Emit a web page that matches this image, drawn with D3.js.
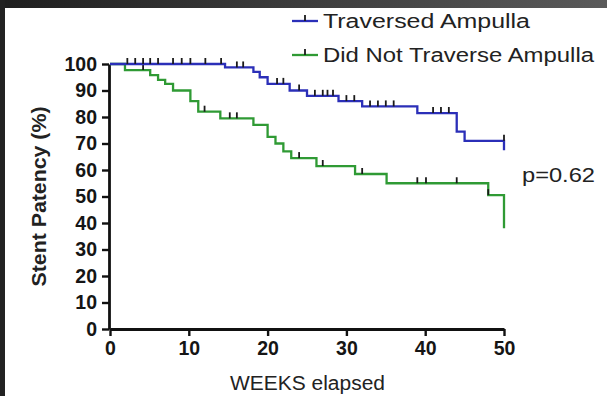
<!DOCTYPE html>
<html>
<head>
<meta charset="utf-8">
<script src="https://cdn.jsdelivr.net/npm/d3@7"></script>
<style>
  html, body { margin: 0; padding: 0; background: #fff; }
  svg { display: block; font-family: "Liberation Sans", Arial, sans-serif; }
</style>
</head>
<body>
<div id="chart"></div>
<script>
// survival steps
const traversedWeeks = [0, 14.6, 18.2, 19, 20, 22.8, 25, 29, 32, 39, 44, 45, 50, 50];
const traversedPct   = [100, 98.7, 97, 95, 92.5, 90, 88, 86, 84, 81.5, 74.5, 71, 71, 67.5];
const traversedCensor = [2.2, 3.2, 4.2, 5.1, 6.1, 8, 9.1, 10.2, 12.1, 14.1, 16.1, 16.9, 21.2, 22,
  24, 26, 27, 27.6, 28.3, 30, 31, 33, 34, 35, 36, 41, 42, 43, 50];

const notTraversedWeeks = [0, 1.9, 5.1, 6.1, 7, 8, 10.2, 11.2, 14, 18.2, 20, 21, 22, 23, 26.2, 31.1, 35.1, 48, 50, 50];
const notTraversedPct   = [100, 97.7, 95.8, 94, 92.5, 90, 86, 82, 79.5, 77, 72.5, 70, 67, 64.5, 61.5, 58.5, 55, 50.5, 50.5, 38];
const notTraversedCensor = [4.2, 12, 15.2, 16.1, 24, 27, 32, 39, 40.1, 44, 48];

const xTicks = [0, 10, 20, 30, 40, 50];
const yTicks = [0, 10, 20, 30, 40, 50, 60, 70, 80, 90, 100];

const seriesNames = ['Traversed Ampulla', 'Did Not Traverse Ampulla'];
const seriesColors = ['#2b2fb8', '#2f9a34'];

const W = 607, H = 396;
const margin = { left: 110, right: 103, top: 64, bottom: 67 };

const svg = d3.select('#chart').append('svg')
  .attr('width', W).attr('height', H);

// dark frame of the screenshot
const defs = svg.append('defs');
const grad = defs.append('linearGradient').attr('id', 'topband');
grad.append('stop').attr('offset', '0%').attr('stop-color', '#1f1f1f');
grad.append('stop').attr('offset', '100%').attr('stop-color', '#5a5a5a');
svg.append('rect').attr('x', 0).attr('y', 0).attr('width', W).attr('height', 8).attr('fill', 'url(#topband)');
svg.append('rect').attr('x', 0).attr('y', 0).attr('width', 5).attr('height', H).attr('fill', '#222');

const x = d3.scaleLinear().domain([0, 50]).range([margin.left, W - margin.right]);
const y = d3.scaleLinear().domain([0, 100]).range([H - margin.bottom, margin.top]);

// axes
const xAxis = svg.append('g')
  .attr('transform', `translate(0,${y(0)})`)
  .call(d3.axisBottom(x).tickValues(xTicks).tickSize(7).tickSizeOuter(0).tickPadding(5));
const yAxis = svg.append('g')
  .attr('transform', `translate(${x(0) - 1},0)`)
  .call(d3.axisLeft(y).tickValues(yTicks).tickSize(7).tickSizeOuter(0).tickPadding(5));

[xAxis, yAxis].forEach(a => {
  a.select('.domain').attr('stroke', '#111').attr('stroke-width', 2.8);
  a.selectAll('.tick line').attr('stroke', '#111').attr('stroke-width', 2.4);
  a.selectAll('.tick text')
    .attr('fill', '#151515')
    .style('font-size', '19.5px')
    .style('font-weight', 'bold')
    .style('font-family', '"Liberation Sans", Arial, sans-serif');
});

// curves
const line = d3.line()
  .x(d => x(d[0]))
  .y(d => y(d[1]))
  .curve(d3.curveStepAfter);

function stepValue(weeks, pct, t) {
  let v = pct[0];
  for (let i = 0; i < weeks.length; i++) {
    if (weeks[i] <= t) v = pct[i];
    else break;
  }
  return v;
}

const series = [
  { weeks: traversedWeeks, pct: traversedPct, censor: traversedCensor },
  { weeks: notTraversedWeeks, pct: notTraversedPct, censor: notTraversedCensor }
];

series.slice().reverse().forEach((s, k) => {
  const i = series.length - 1 - k;
  const pts = s.weeks.map((w, j) => [w, s.pct[j]]);
  svg.append('path')
    .attr('d', line(pts))
    .attr('fill', 'none')
    .attr('stroke', seriesColors[i])
    .attr('stroke-width', 2.3);

  // censor marks: use the level before the final drop at the very end
  const pre = s.weeks.slice(0, -1), preP = s.pct.slice(0, -1);
  svg.append('g').selectAll('line')
    .data(s.censor)
    .enter().append('line')
    .attr('x1', d => x(d)).attr('x2', d => x(d))
    .attr('y1', d => y(stepValue(pre, preP, d)))
    .attr('y2', d => y(stepValue(pre, preP, d)) - 6)
    .attr('stroke', '#1a1a1a')
    .attr('stroke-width', 1.8);
});

// legend
const legend = svg.append('g');
const legendWidths = [207, 271];
seriesNames.forEach((name, i) => {
  const ly = 21 + i * 34;
  legend.append('line')
    .attr('x1', 292).attr('x2', 318).attr('y1', ly).attr('y2', ly)
    .attr('stroke', seriesColors[i]).attr('stroke-width', 2.3);
  legend.append('line')
    .attr('x1', 305).attr('x2', 305).attr('y1', ly).attr('y2', ly - 6)
    .attr('stroke', '#1a1a1a').attr('stroke-width', 1.8);
  legend.append('text')
    .attr('x', 323).attr('y', ly + 7)
    .attr('fill', '#222')
    .attr('textLength', legendWidths[i])
    .attr('lengthAdjust', 'spacingAndGlyphs')
    .style('font-size', '20px')
    .text(name);
});

// labels
svg.append('text')
  .attr('x', 522).attr('y', 182)
  .attr('fill', '#222')
  .attr('textLength', 73)
  .attr('lengthAdjust', 'spacingAndGlyphs')
  .style('font-size', '20px')
  .text('p=0.62');

svg.append('text')
  .attr('x', 230).attr('y', 390)
  .attr('fill', '#222')
  .attr('textLength', 155)
  .attr('lengthAdjust', 'spacingAndGlyphs')
  .style('font-size', '20px')
  .text('WEEKS elapsed');

svg.append('text')
  .attr('transform', `translate(46,${(y(0) + y(100)) / 2}) rotate(-90)`)
  .attr('text-anchor', 'middle')
  .attr('fill', '#222')
  .attr('textLength', 180)
  .attr('lengthAdjust', 'spacingAndGlyphs')
  .style('font-size', '20px')
  .style('font-weight', 'bold')
  .text('Stent Patency (%)');
</script>
</body>
</html>
